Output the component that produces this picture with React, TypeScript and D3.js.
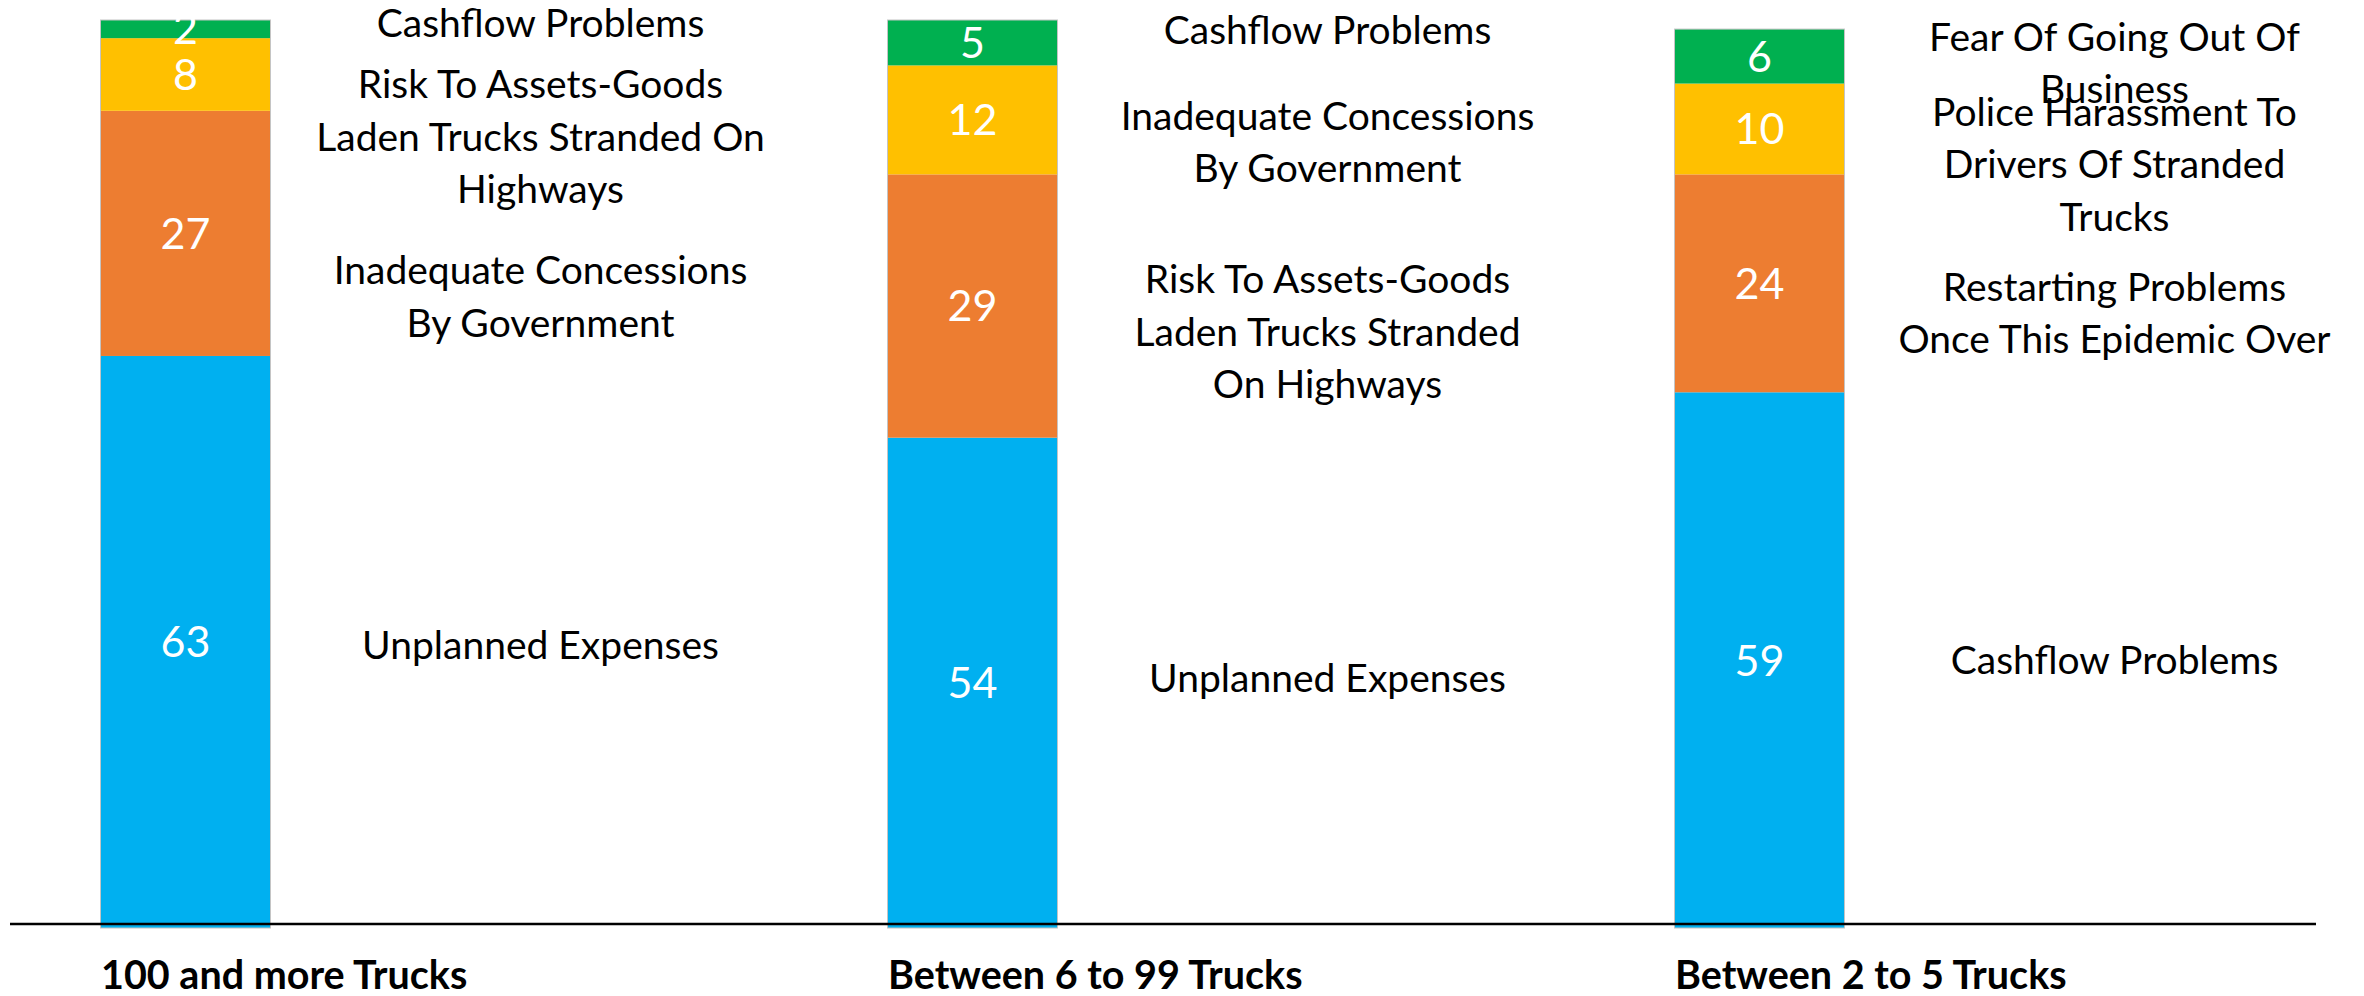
import React from 'react';
import * as d3 from 'd3';

// ---- data ----
const categories = ['100 and more Trucks', 'Between 6 to 99 Trucks', 'Between 2 to 5 Trucks'];
// stacked from the bottom: blue, orange, yellow, green
const blueValues = [63, 54, 59];
const orangeValues = [27, 29, 24];
const yellowValues = [8, 12, 10];
const greenValues = [2, 5, 6];

const blueNames = ['Unplanned Expenses', 'Unplanned Expenses', 'Cashflow Problems'];
const orangeNames = [
  'Inadequate Concessions\nBy Government',
  'Risk To Assets-Goods\nLaden Trucks Stranded\nOn Highways',
  'Restarting Problems\nOnce This Epidemic Over',
];
const yellowNames = [
  'Risk To Assets-Goods\nLaden Trucks Stranded On\nHighways',
  'Inadequate Concessions\nBy Government',
  'Police Harassment To\nDrivers Of Stranded\nTrucks',
];
const greenNames = ['Cashflow Problems', 'Cashflow Problems', 'Fear Of Going Out Of\nBusiness'];

// ---- layout / style ----
const W = 2364;
const H = 996;
const KEYS = ['blue', 'orange', 'yellow', 'green'];
const COLORS: Record<string, string> = {
  blue: '#00B0F0',
  orange: '#ED7D31',
  yellow: '#FFC000',
  green: '#00B050',
};
// vertical nudges (px) of the side annotations relative to segment centres
const NUDGE: Record<string, number[]> = {
  blue: [3, -4.5, 0],
  orange: [63, 26, 29.5],
  yellow: [62.5, 22, 35.2],
  green: [-6.5, -12.7, 6.7],
};
const ANNO_DX = 355;
const FONT = 'Lato, "Open Sans", sans-serif';
const VAL_SIZE = 43;
const ANNO_SIZE = 39;
const ANNO_LH = 52.5;
const CAT_SIZE = 39.5;

export default function App() {
  const rows = categories.map((c, i) => ({
    cat: c,
    blue: blueValues[i],
    orange: orangeValues[i],
    yellow: yellowValues[i],
    green: greenValues[i],
  }));
  const names: Record<string, string[]> = {
    blue: blueNames,
    orange: orangeNames,
    yellow: yellowNames,
    green: greenNames,
  };

  const x = d3
    .scaleBand<string>()
    .domain(categories)
    .range([21.3, 1923.7])
    .paddingInner(0.78272)
    .paddingOuter(0.1);
  const y = d3.scaleLinear().domain([0, 100]).range([928, 20]);

  const stack = d3.stack<any>().keys(KEYS);
  const series = stack(rows);

  const bw = x.bandwidth();
  const axisY = 924;

  return (
    <svg
      width={W}
      height={H}
      style={{ position: 'absolute', left: 0, top: 0, background: '#fff' }}
      fontFamily={FONT}
    >
      <rect x={0} y={0} width={W} height={H} fill="#fff" />
      {series.map((s) => (
        <g key={s.key}>
          {s.map((d, i) => {
            const x0 = x(categories[i]) as number;
            const yTop = y(d[1]);
            const yBot = y(d[0]);
            return (
              <rect
                key={i}
                x={x0}
                y={yTop}
                width={bw}
                height={yBot - yTop}
                fill={COLORS[s.key]}
              />
            );
          })}
        </g>
      ))}
      {/* bar outlines */}
      {rows.map((r, i) => {
        const total = KEYS.reduce((a, k) => a + (r as any)[k], 0);
        return (
          <rect
            key={'o' + i}
            x={(x(r.cat) as number) + 0.5}
            y={y(total)}
            width={bw - 1}
            height={y(0) - y(total)}
            fill="none"
            stroke="#c4c4c4"
            strokeWidth={1}
          />
        );
      })}
      {/* value labels */}
      {series.map((s) => (
        <g key={'v' + s.key}>
          {s.map((d, i) => {
            const cx = (x(categories[i]) as number) + bw / 2;
            const cy = (y(d[0]) + y(d[1])) / 2;
            return (
              <text
                key={i}
                x={cx}
                y={cy + 0.358 * VAL_SIZE}
                textAnchor="middle"
                fontSize={VAL_SIZE}
                fill="#fff"
              >
                {d[1] - d[0]}
              </text>
            );
          })}
        </g>
      ))}
      {/* side annotations */}
      {series.map((s) => (
        <g key={'a' + s.key}>
          {s.map((d, i) => {
            const cx = (x(categories[i]) as number) + bw / 2 + ANNO_DX;
            const cy = (y(d[0]) + y(d[1])) / 2 + NUDGE[s.key][i];
            const lines = names[s.key][i].split('\n');
            return (
              <text key={i} textAnchor="middle" fontSize={ANNO_SIZE} fill="#000">
                {lines.map((ln, j) => (
                  <tspan
                    key={j}
                    x={cx}
                    y={cy + (j - (lines.length - 1) / 2) * ANNO_LH + 0.358 * ANNO_SIZE}
                  >
                    {ln}
                  </tspan>
                ))}
              </text>
            );
          })}
        </g>
      ))}
      {/* axis */}
      <line x1={10} x2={2316} y1={axisY} y2={axisY} stroke="#000" strokeWidth={2.5} />
      {categories.map((c) => (
        <text
          key={c}
          x={(x(c) as number) + 1}
          y={989}
          fontSize={CAT_SIZE}
          fontWeight="bold"
          fill="#000"
        >
          {c}
        </text>
      ))}
    </svg>
  );
}
